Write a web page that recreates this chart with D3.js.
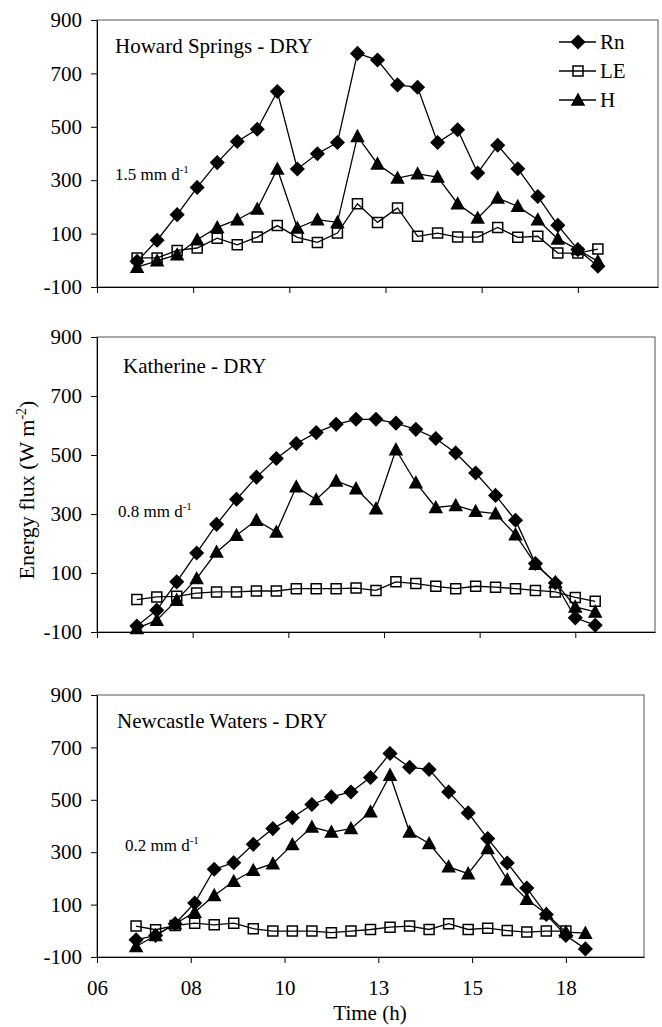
<!DOCTYPE html>
<html>
<head>
<meta charset="utf-8">
<script src="https://cdn.jsdelivr.net/npm/d3@7"></script>
<style>
  body { margin: 0; background: #fff; }
  text { font-family: "Liberation Serif", "Times New Roman", serif; fill: #000; }
</style>
</head>
<body>
<script>
// Flujos de energía en tres sitios (estación seca).

const WIDTH = 662,
    HEIGHT = 1027;

// Hora de cada medición
const times = [7, 7.5, 8, 8.5, 9, 9.5, 10, 10.5, 11, 11.5, 12, 12.5,
               13, 13.5, 14, 14.5, 15, 15.5, 16, 16.5, 17, 17.5, 18, 18.5];

// Eje de tiempo tipo Excel: marcas cada 2.4 h con formato "hh"
const xTickValues = [6, 8.4, 10.8, 13.2, 15.6, 18];
const xTickLabels = ['06', '08', '10', '13', '15', '18'];
const yTickValues = [-100, 100, 300, 500, 700, 900];

const seriesNames = ['Rn', 'LE', 'H'];

// Howard Springs
const howardRn = [-4, 75, 171, 273, 366, 445, 491, 632, 342, 399, 441, 775,
                  750, 657, 648, 441, 489, 327, 431, 343, 239, 131, 40, -22];
const howardLE = [9, 9, 37, 46, 83, 58, 87, 130, 86, 67, 102, 212,
                  142, 196, 90, 102, 87, 87, 123, 86, 90, 27, 27, 42];
const howardH = [-26, -2, 21, 77, 123, 152, 192, 342, 121, 152, 142, 464,
                 361, 308, 324, 312, 212, 158, 233, 202, 152, 80, 40, -4];

// Katherine
const katherineRn = [-80, -26, 70, 168, 265, 350, 425, 488, 539, 576, 604, 621,
                     621, 608, 587, 556, 507, 439, 363, 279, 132, 66, -52, -77];
const katherineLE = [10, 19, 21, 32, 36, 36, 39, 39, 47, 47, 47, 49,
                     41, 70, 64, 55, 47, 55, 52, 47, 41, 36, 17, 4];
const katherineH = [-88, -60, 8, 81, 171, 228, 279, 239, 392, 349, 412, 386,
                    318, 518, 406, 322, 329, 309, 301, 230, 130, 68, -15, -32];

// Newcastle Waters (LE sin dato a las 18.5)
const newcastleRn = [-34, -18, 27, 106, 235, 260, 330, 390, 432, 482, 511, 530,
                     585, 677, 624, 616, 530, 450, 352, 259, 163, 62, -18, -69];
const newcastleLE = [18, 4, 20, 29, 23, 29, 8, -1, -1, -1, -7, -1,
                     5, 14, 18, 5, 27, 5, 10, 1, -5, -1, -1, null];
const newcastleH = [-60, -18, 27, 71, 135, 189, 231, 256, 329, 396, 377, 390,
                    454, 594, 377, 333, 244, 218, 314, 195, 120, 65, -5, -9];

// Ubicación de cada panel (el escaneo original no tiene todos del mismo ancho)
const panels = [
    {title: 'Howard Springs - DRY', rate: '1.5 mm d', values: [howardRn, howardLE, howardH],
     left: 97, right: 658, top: 20, bottom: 287,
     titleX: 115, titleY: 53, rateX: 115, rateY: 180, legend: true, labels: false},
    {title: 'Katherine - DRY', rate: '0.8 mm d', values: [katherineRn, katherineLE, katherineH],
     left: 97, right: 655, top: 337, bottom: 632,
     titleX: 123, titleY: 373, rateX: 118, rateY: 517, legend: false, labels: false},
    {title: 'Newcastle Waters - DRY', rate: '0.2 mm d', values: [newcastleRn, newcastleLE, newcastleH],
     left: 97, right: 644, top: 695, bottom: 957,
     titleX: 117, titleY: 728, rateX: 125, rateY: 851, legend: false, labels: true}
];

// Marcadores: rombo relleno, cuadrado vacío, triángulo relleno
const markers = {
    Rn: {d: 'M0,-6.5L6.5,0L0,6.5L-6.5,0Z', fill: '#000'},
    LE: {d: 'M-5,-5H5V5H-5Z', fill: 'none'},
    H:  {d: 'M0,-6L6,5L-6,5Z', fill: '#000'}
};

const svg = d3.select('body')
    .append('svg')
        .attr('width', WIDTH)
        .attr('height', HEIGHT);

panels.forEach(p => {
    const x = d3.scaleLinear().domain([6, 20]).range([p.left, p.right]);
    const y = d3.scaleLinear().domain([-100, 900]).range([p.bottom, p.top]);

    const g = svg.append('g').attr('class', 'panel');

    // Marco del área del gráfico
    g.append('rect')
        .attr('x', p.left)
        .attr('y', p.top)
        .attr('width', p.right - p.left)
        .attr('height', p.bottom - p.top)
        .attr('fill', 'none')
        .attr('stroke', '#555')
        .attr('stroke-width', 1);

    const xAxis = d3.axisBottom(x)
        .tickValues(xTickValues)
        .tickFormat((d, i) => p.labels ? xTickLabels[i] : '')
        .tickSize(6)
        .tickSizeOuter(0)
        .tickPadding(17);

    // guion normal en "-100", como en el original
    const yAxis = d3.axisLeft(y)
        .tickValues(yTickValues)
        .tickFormat(d => String(d))
        .tickSize(6)
        .tickSizeOuter(0)
        .tickPadding(9);

    g.append('g')
        .attr('transform', `translate(0,${p.bottom})`)
        .call(xAxis)
        .call(a => a.selectAll('text').style('font-size', '21px').attr('fill', '#000'));

    g.append('g')
        .attr('transform', `translate(${p.left},0)`)
        .call(yAxis)
        .call(a => a.selectAll('text').style('font-size', '21px').attr('fill', '#000'));

    g.selectAll('.domain, .tick line').attr('stroke', '#000');

    // Series
    const line = d3.line().x(d => x(d.t)).y(d => y(d.v));

    p.values.forEach((vals, k) => {
        const name = seriesNames[k];
        const pts = times.map((t, i) => ({t: t, v: vals[i]})).filter(d => d.v !== null);

        g.append('path')
            .datum(pts)
            .attr('d', line)
            .attr('fill', 'none')
            .attr('stroke', '#000')
            .attr('stroke-width', 1.3);

        g.selectAll(null)
            .data(pts)
            .enter().append('path')
                .attr('transform', d => `translate(${x(d.t)},${y(d.v)})`)
                .attr('d', markers[name].d)
                .attr('fill', markers[name].fill)
                .attr('stroke', '#000')
                .attr('stroke-width', 1.5);
    });

    // Nombre del sitio
    g.append('text')
        .attr('x', p.titleX)
        .attr('y', p.titleY)
        .style('font-size', '21px')
        .text(p.title);

    // Tasa de evaporación con superíndice
    const rate = g.append('text')
        .attr('x', p.rateX)
        .attr('y', p.rateY)
        .style('font-size', '17px')
        .text(p.rate);
    rate.append('tspan')
        .attr('dy', -7)
        .style('font-size', '11px')
        .text('-1');

    if (p.legend) {
        const legend = g.selectAll('.legend')
            .data(seriesNames)
            .enter().append('g')
                .attr('class', 'legend')
                .attr('transform', (d, i) => `translate(0,${42 + i * 29})`);

        legend.append('line')
            .attr('x1', 559)
            .attr('x2', 596)
            .attr('stroke', '#000')
            .attr('stroke-width', 1.3);

        legend.append('path')
            .attr('transform', 'translate(578,0)')
            .attr('d', d => markers[d].d)
            .attr('fill', d => markers[d].fill)
            .attr('stroke', '#000')
            .attr('stroke-width', 1.5);

        legend.append('text')
            .attr('x', 600)
            .attr('y', 7)
            .style('font-size', '21px')
            .text(d => d);
    }
});

// Títulos de los ejes
const yTitle = svg.append('text')
    .attr('transform', 'translate(34,490) rotate(-90)')
    .attr('text-anchor', 'middle')
    .style('font-size', '22px')
    .text('Energy flux (W m');
yTitle.append('tspan')
    .attr('dy', -8)
    .style('font-size', '14px')
    .text('-2');
yTitle.append('tspan')
    .attr('dy', 8)
    .text(')');

svg.append('text')
    .attr('x', 370)
    .attr('y', 1020)
    .attr('text-anchor', 'middle')
    .style('font-size', '21px')
    .text('Time (h)');
</script>
</body>
</html>
